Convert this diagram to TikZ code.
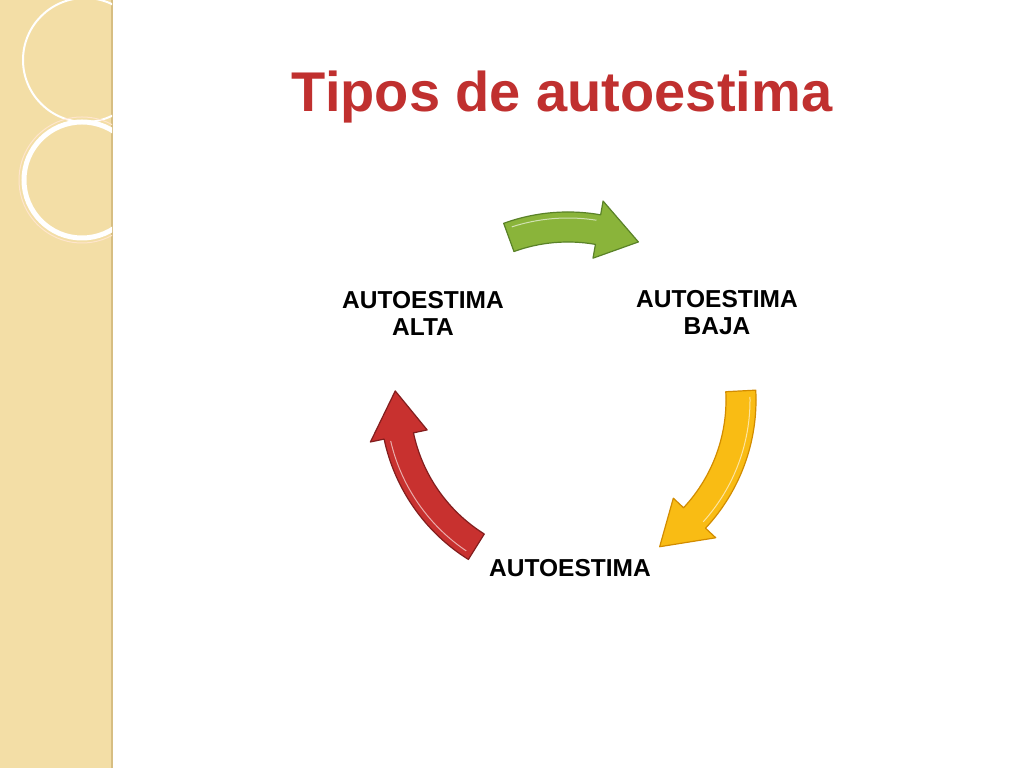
\documentclass[tikz,border=0pt]{standalone}
\usepackage{fontspec}
\setmainfont{Liberation Sans}
\definecolor{panel}{RGB}{243,222,166}
\definecolor{panelline}{RGB}{215,190,130}
\definecolor{titlered}{RGB}{192,48,47}
\definecolor{gfill}{RGB}{138,180,58}
\definecolor{gdraw}{RGB}{90,130,40}
\definecolor{yfill}{RGB}{249,188,20}
\definecolor{ydraw}{RGB}{210,140,0}
\definecolor{rfill}{RGB}{200,49,47}
\definecolor{rdraw}{RGB}{130,30,30}
\begin{document}
\begin{tikzpicture}[x=1pt,y=1pt,
  lbl/.style={font=\fontsize{24.5}{27}\selectfont\bfseries,align=center,text=black},
  arr/.style={line width=1.2pt,line join=round}]
\useasboundingbox (0,0) rectangle (1024,768);
\fill[white] (0,0) rectangle (1024,768);
% left decorative panel
\fill[panel] (0,0) rectangle (112,768);
\draw[panelline,line width=1.5pt] (112,0) -- (112,768);
\begin{scope}
\clip (0,0) rectangle (112,768);
\draw[white,line width=2pt] (85,708) circle[radius=62];
\draw[white,line width=5pt] (82,588) circle[radius=58];
\draw[white!80!orange,line width=1pt] (82,588) circle[radius=63];
\end{scope}
% title
\node[font=\fontsize{56}{60}\selectfont\bfseries,text=titlered] (title) at (562,671) {Tipos de autoestima};
% arrows
\newcommand{\cyclearrow}[5]{% a1 ah a2 fill border
  \path[arr,fill=#4,draw=#5] (#1:188) arc[start angle=#1,end angle=#2,radius=188]
    -- (#2:202) -- (#3:173) -- (#2:144) -- (#2:158)
    arc[start angle=#2,end angle=#1,radius=158] -- cycle;
  \draw[white,opacity=0.6,line width=1pt] (#1-2:182) arc[start angle=#1-2,end angle=#2+1,radius=182];}
\begin{scope}[shift={(568,368)}]
\cyclearrow{110}{80}{66}{gfill}{gdraw}
\cyclearrow{3}{-43}{-58}{yfill}{ydraw}
\cyclearrow{238}{192}{177}{rfill}{rdraw}
\end{scope}
% labels
\node[lbl] (alta) at (423,455) {AUTOESTIMA\\ALTA};
\node[lbl] (baja) at (717,455) {AUTOESTIMA\\BAJA};
\node[lbl] (auto) at (570,200) {AUTOESTIMA};
\end{tikzpicture}
\end{document}
